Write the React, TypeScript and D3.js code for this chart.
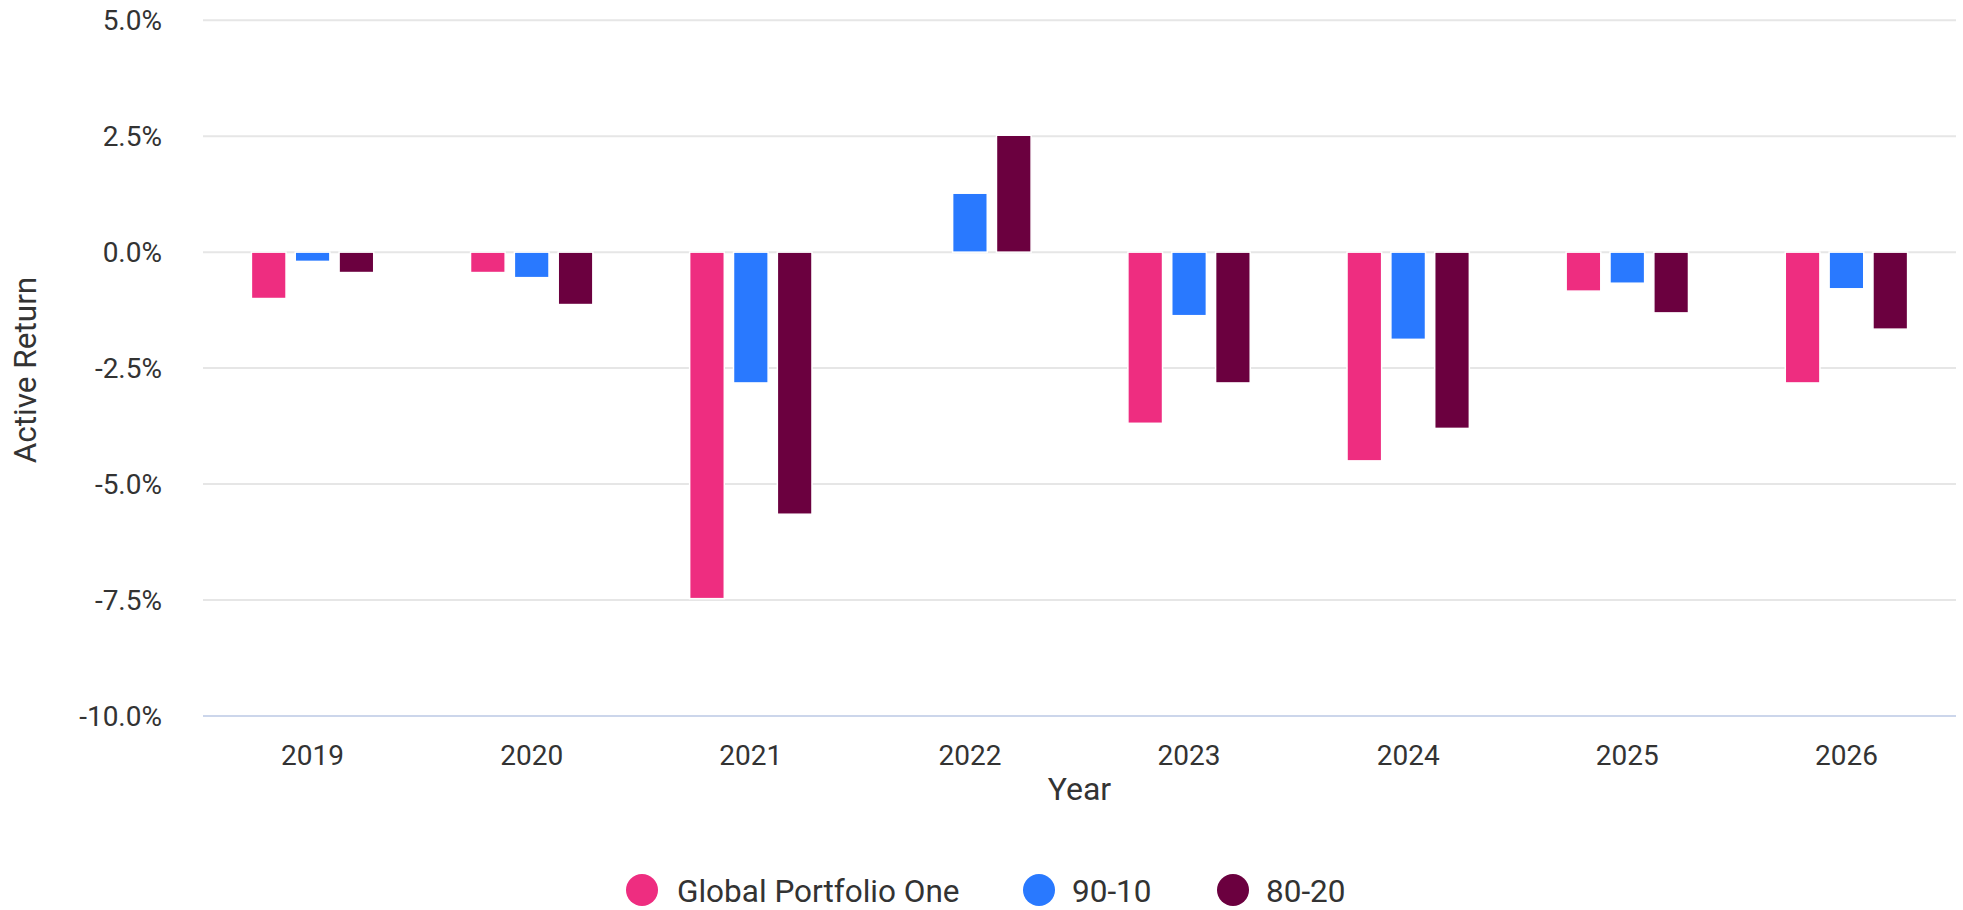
import React from "react";
import * as d3 from "d3";

const years = ["2019", "2020", "2021", "2022", "2023", "2024", "2025", "2026"];
const seriesNames = ["Global Portfolio One", "90-10", "80-20"];
const globalPortfolioOne = [-1.0, -0.44, -7.47, 0, -3.69, -4.5, -0.84, -2.82];
const ninetyTen = [-0.2, -0.55, -2.82, 1.27, -1.37, -1.88, -0.67, -0.79];
const eightyTwenty = [-0.44, -1.13, -5.65, 2.52, -2.82, -3.8, -1.31, -1.66];
const colors = ["#EE2D80", "#2979FF", "#6B003F"];
const yTicks = [5, 2.5, 0, -2.5, -5, -7.5, -10];

const W = 1963;
const H = 910;
const left = 203;
const right = 1956;
const FONT = "Roboto, 'Noto Sans', sans-serif";

export default function App() {
  const values = [globalPortfolioOne, ninetyTen, eightyTwenty];
  const y = d3.scaleLinear().domain([-10, 5]).range([716, 20.2]);
  const x0 = d3.scaleBand<string>().domain(years).range([left, right]).padding(0);
  const bw = x0.bandwidth();
  const groupPad = 48.4;
  const x1 = d3
    .scaleBand<string>()
    .domain(seriesNames)
    .range([groupPad, bw - groupPad])
    .paddingInner(0.21)
    .paddingOuter(0);

  const legendItems = [
    { name: seriesNames[0], cx: 642, tx: 677 },
    { name: seriesNames[1], cx: 1039, tx: 1072 },
    { name: seriesNames[2], cx: 1233, tx: 1266 },
  ];

  return (
    <svg
      width={W}
      height={H}
      style={{ position: "absolute", left: 0, top: 0, background: "#fff" }}
      fontFamily={FONT}
    >
      {yTicks.map((t) => (
        <g key={t}>
          <line
            x1={left}
            x2={right}
            y1={y(t)}
            y2={y(t)}
            stroke={t === -10 ? "#ccd6eb" : "#e6e6e6"}
            strokeWidth={2}
          />
          <text
            x={162}
            y={y(t) + 10}
            textAnchor="end"
            fontSize={28}
            fill="#333"
          >
            {t.toFixed(1) + "%"}
          </text>
        </g>
      ))}
      <text
        transform={`translate(36, ${370}) rotate(-90)`}
        textAnchor="middle"
        fontSize={31.5}
        fill="#333"
      >
        Active Return
      </text>
      {years.map((yr, i) => (
        <g key={yr} transform={`translate(${x0(yr)},0)`}>
          {values.map((vals, s) => {
            const v = vals[i];
            if (v === 0) return null;
            const y0 = y(0);
            const yv = y(v);
            return (
              <rect
                key={s}
                x={x1(seriesNames[s])}
                width={x1.bandwidth()}
                y={Math.min(y0, yv)}
                height={Math.abs(yv - y0)}
                fill={colors[s]}
                stroke="#fff"
                strokeWidth={1.5}
              />
            );
          })}
          <text
            x={bw / 2}
            y={765}
            textAnchor="middle"
            fontSize={28}
            fill="#333"
          >
            {yr}
          </text>
        </g>
      ))}
      <text x={(left + right) / 2} y={800} textAnchor="middle" fontSize={32} fill="#333">
        Year
      </text>
      {legendItems.map((it, i) => (
        <g key={it.name}>
          <circle cx={it.cx} cy={890} r={16} fill={colors[i]} />
          <text x={it.tx} y={902} fontSize={31.5} fill="#333">
            {it.name}
          </text>
        </g>
      ))}
    </svg>
  );
}
